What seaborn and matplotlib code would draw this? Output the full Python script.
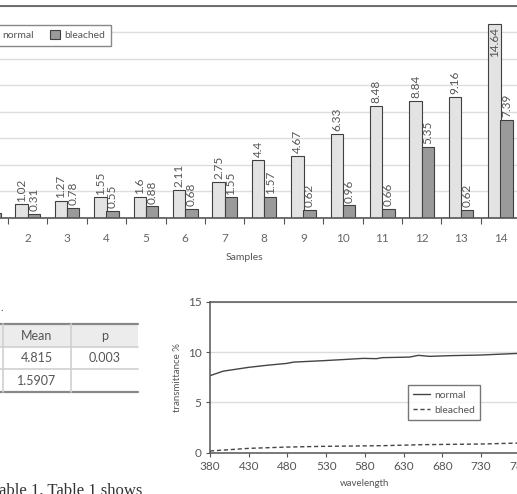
import numpy as np
import pandas as pd
import matplotlib
matplotlib.use('Agg')
import matplotlib.pyplot as plt
import seaborn as sns

# --- bar chart data (samples 1..14) ---
samples = [str(i) for i in range(1, 15)]
normal = [0.59, 1.02, 1.27, 1.55, 1.6, 2.11, 2.75, 4.4, 4.67, 6.33, 8.48, 8.84, 9.16, 14.64]
bleached = [0.35, 0.31, 0.78, 0.55, 0.88, 0.68, 1.55, 1.57, 0.62, 0.96, 0.66, 5.35, 0.62, 7.39]

# --- transmittance spectra ---
wl = [380, 397, 430, 453, 479, 488, 526, 556, 578, 595, 602, 638, 649, 664, 690, 729, 780]
trans_normal = [7.65, 8.1, 8.48, 8.68, 8.87, 9.0, 9.14, 9.27, 9.37, 9.34, 9.44, 9.5, 9.67, 9.57, 9.64, 9.7, 9.87]
wl_b = [380, 397, 430, 479, 526, 604, 656, 729, 780]
trans_bleached = [0.17, 0.26, 0.43, 0.56, 0.63, 0.7, 0.8, 0.86, 0.96]

# --- table ---
tbl_header = ['Mean', 'p']
tbl_rows = [['4.815', '0.003'], ['1.5907', '']]

sns.set_style('whitegrid')
plt.rcParams['font.family'] = ['Lato', 'DejaVu Sans']
txt = '#555555'
dark = '#555555'

W, H = 517, 494
fig = plt.figure(figsize=(W / 100, H / 100), dpi=100)

# background layer for the table and text fragments (pixel coords)
bg = fig.add_axes([0, 0, 1, 1])
bg.set_xlim(0, W)
bg.set_ylim(H, 0)
bg.axis('off')

# ---------------- bar chart ----------------
ax1 = fig.add_axes([-31.4 / W, (H - 218) / H, 551.6 / W, 212 / H])
df = pd.DataFrame({'sample': samples * 2,
                   'value': normal + bleached,
                   'type': ['normal'] * 14 + ['bleached'] * 14})
sns.barplot(data=df, x='sample', y='value', hue='type', ax=ax1,
            palette=['#e3e3e3', '#9a9a9a'], width=0.62,
            edgecolor='#404040', linewidth=0.8, saturation=1)
ymax = 16
for c in ax1.containers:
    labels = []
    for bar, v in zip(c, c.datavalues):
        if v > 13:
            # too tall: write the value inside the bar top
            labels.append('')
            ax1.annotate(f'{v:g}', (bar.get_x() + bar.get_width() / 2, v),
                         xytext=(0, -2), textcoords='offset points', rotation=90,
                         ha='center', va='top', fontsize=8.5, color=txt)
        else:
            labels.append(f'{v:g}')
    ax1.bar_label(c, labels=labels, rotation=90, padding=2, fontsize=8.5, color=txt)
ax1.set_ylim(0, ymax)
ax1.set_yticks(np.arange(0, ymax + 1, 2))
ax1.set_xlim(-0.5, 13.5)
ax1.grid(axis='x', visible=False)
ax1.grid(axis='y', color='#dddddd', linewidth=1)
ax1.set_xticks(np.arange(-0.5, 14, 1), minor=True)
ax1.tick_params(axis='x', which='major', length=0, labelsize=8.5, labelcolor='#666666', pad=11)
ax1.tick_params(axis='x', which='minor', length=4, width=0.8, color=dark, direction='out', bottom=True)
ax1.set_xlabel('Samples', fontsize=7.5, color=txt, labelpad=6)
ax1.set_ylabel('')
for s in ['top', 'bottom', 'left']:
    ax1.spines[s].set_color(dark)
    ax1.spines[s].set_linewidth(1.2)
ax1.spines['right'].set_visible(False)
leg = ax1.legend(loc='upper right', bbox_to_anchor=((116 + 31.4) / 551.6, (218 - 20) / 212),
                 ncol=2, fontsize=7.5, frameon=True, fancybox=False,
                 handlelength=0.9, handleheight=0.9, columnspacing=1.6,
                 borderpad=0.5, handletextpad=0.5, labelcolor=txt)
leg.get_frame().set_edgecolor('#888888')
leg.get_frame().set_linewidth(1)
leg.get_frame().set_facecolor('white')
leg.get_frame().set_alpha(1)

# ---------------- line chart ----------------
ax2 = fig.add_axes([210 / W, (H - 452.7) / H, 309.7 / W, 151 / H])
sns.lineplot(x=wl, y=trans_normal, ax=ax2, color='#444444', linewidth=1, label='normal')
sns.lineplot(x=wl_b, y=trans_bleached, ax=ax2, color='#444444', linewidth=1,
             linestyle=(0, (3, 2)), label='bleached')
ax2.set_xlim(380, 780)
ax2.set_ylim(0, 15)
ax2.set_xticks(np.arange(380, 781, 50))
ax2.set_yticks([0, 5, 10, 15])
ax2.grid(axis='x', visible=False)
ax2.grid(axis='y', color='#dddddd', linewidth=1)
ax2.tick_params(length=3, width=0.8, color=dark, direction='out', labelsize=8.5,
                labelcolor=txt, left=True, bottom=True, pad=3)
ax2.set_xlabel('wavelength', fontsize=7, color=txt, labelpad=5)
ax2.set_ylabel('transmittance %', fontsize=7, color=txt, labelpad=4)
for s in ['top', 'bottom', 'left']:
    ax2.spines[s].set_color(dark)
    ax2.spines[s].set_linewidth(1.1)
ax2.spines['right'].set_visible(False)
leg2 = ax2.legend(loc='upper left', bbox_to_anchor=((403 - 210) / 309.7, (452.7 - 380) / 151),
                  fontsize=7.5, frameon=True, fancybox=False, handlelength=1.6,
                  borderpad=0.5, handletextpad=0.4, labelcolor=txt, labelspacing=0.55)
leg2.get_frame().set_edgecolor('#555555')
leg2.get_frame().set_linewidth(1)
leg2.get_frame().set_facecolor('white')

# ---------------- table fragment ----------------
row_y = [324, 347, 369, 392]
col_x = [3, 71, 138]
bg.fill_between([0, col_x[-1]], row_y[0], row_y[1], color='#ececec', lw=0)
bg.plot([0, col_x[-1]], [row_y[0]] * 2, color='#888888', lw=1.6)
bg.plot([0, col_x[-1]], [row_y[-1]] * 2, color='#888888', lw=1.6)
for y in row_y[1:-1]:
    bg.plot([0, col_x[-1]], [y, y], color='#d0d0d0', lw=1.2)
for x in col_x[:-1]:
    bg.plot([x, x], [row_y[0], row_y[-1]], color='#d0d0d0', lw=1.2)
cells = [tbl_header] + tbl_rows
for r, row in enumerate(cells):
    yc = (row_y[r] + row_y[r + 1]) / 2
    for c, val in enumerate(row):
        xc = (col_x[c] + col_x[c + 1]) / 2
        bg.text(xc, yc, val, ha='center', va='center', fontsize=9, color=txt)

bg.text(0, 313, '.', fontsize=8, color=txt, ha='left', va='bottom')
bg.text(-1, 483, 'able 1. Table 1 shows', fontsize=12, color='#333333', ha='left',
        va='top', family=['Liberation Serif', 'DejaVu Serif'])

fig.savefig('out.png', dpi=100)
